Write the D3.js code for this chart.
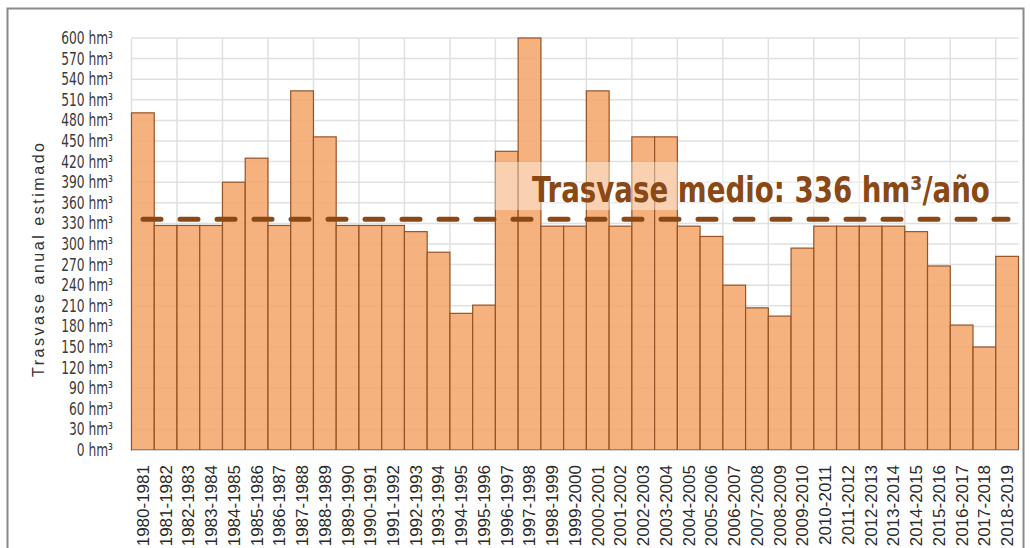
<!DOCTYPE html>
<html>
<head>
<meta charset="utf-8">
<script src="https://cdn.jsdelivr.net/npm/d3@7"></script>
<style>
	body {margin: 0; background: #fff;}
	svg {display: block;}
</style>
</head>
<body>
<svg width="1030" height="548"></svg>
<script>
let campaigns = ["1980-1981", "1981-1982", "1982-1983", "1983-1984", "1984-1985", "1985-1986",
	"1986-1987", "1987-1988", "1988-1989", "1989-1990", "1990-1991", "1991-1992", "1992-1993",
	"1993-1994", "1994-1995", "1995-1996", "1996-1997", "1997-1998", "1998-1999", "1999-2000",
	"2000-2001", "2001-2002", "2002-2003", "2003-2004", "2004-2005", "2005-2006", "2006-2007",
	"2007-2008", "2008-2009", "2009-2010", "2010-2011", "2011-2012", "2012-2013", "2013-2014",
	"2014-2015", "2015-2016", "2016-2017", "2017-2018", "2018-2019"];
let transfer = [491, 327, 327, 327, 390, 425, 327, 523, 456, 327, 327, 327, 318, 288,
	199, 211, 435, 600, 326, 326, 523, 326, 456, 456, 326, 311, 240, 207, 195, 294,
	326, 326, 326, 326, 318, 268, 182, 150, 282];
let yTicks = [0, 30, 60, 90, 120, 150, 180, 210, 240, 270, 300, 330, 360, 390, 420, 450, 480, 510, 540, 570, 600];
let meanValue = 336;
let meanLabel = "Trasvase medio: 336 hm³/año";
let yTitle = "Trasvase anual estimado";

let svg = d3.select("svg");
let narrow = "'Liberation Sans Narrow', 'Arial Narrow', 'DejaVu Sans Condensed', sans-serif";

//Rahmen
svg.append("rect")
	.attr("x", 7.5).attr("y", 8.5)
	.attr("width", 1016).attr("height", 600)
	.attr("fill", "none")
	.attr("stroke", "#8a8a8a")
	.attr("stroke-width", 2);

let xscale = d3.scaleBand().domain(campaigns).range([131.5, 1018.5]).padding(0);
let yscale = d3.scaleLinear().domain([0, 600]).range([450, 38]);
let bw = xscale.bandwidth();

//Gitterlinien
let grid = svg.append("g").attr("stroke", "#e0e0e0").attr("stroke-width", 1.5);
grid.selectAll(".hgrid")
	.data(yTicks)
	.enter().append("line")
		.attr("x1", 131.5).attr("x2", 1018.5)
		.attr("y1", function(d) {return yscale(d);})
		.attr("y2", function(d) {return yscale(d);});
grid.selectAll(".vgrid")
	.data(campaigns.filter(function(d, i) {return i % 2 == 0;}))
	.enter().append("line")
		.attr("x1", function(d) {return xscale(d);})
		.attr("x2", function(d) {return xscale(d);})
		.attr("y1", yscale(600)).attr("y2", yscale(0));

//Balken
svg.selectAll(".bar")
	.data(campaigns)
	.enter().append("rect")
		.attr("class", "bar")
		.attr("x", function(d) {return xscale(d);})
		.attr("y", function(d, i) {return yscale(transfer[i]);})
		.attr("width", bw)
		.attr("height", function(d, i) {return yscale(0) - yscale(transfer[i]);})
		.attr("fill", "#f5a76c")
		.attr("fill-opacity", 0.88)
		.attr("stroke", "#955427")
		.attr("stroke-width", 1.2);

//y-Achse (schmal gestaucht)
let yaxis = d3.axisLeft(yscale)
	.tickValues(yTicks)
	.tickSize(0)
	.tickPadding(0)
	.tickFormat(function(d) {return d + " hm³";});
let gy = svg.append("g")
	.attr("transform", "translate(113,0)scale(0.8,1)")
	.call(yaxis);
gy.select(".domain").remove();
gy.selectAll("text")
	.attr("font-family", narrow)
	.attr("font-size", 17)
	.attr("fill", "#3a3a3a");

//x-Achse
let xaxis = d3.axisBottom(xscale).tickSize(0).tickPadding(0);
let gx = svg.append("g")
	.attr("transform", "translate(0,450)")
	.call(xaxis);
gx.select(".domain").attr("stroke", "#d0d0d0");
gx.selectAll("text")
	.attr("transform", "rotate(-90)")
	.attr("text-anchor", "end")
	.attr("dy", "0.35em")
	.attr("x", -15)
	.attr("y", 0)
	.attr("font-family", "'Liberation Sans', Arial, sans-serif")
	.attr("font-size", 17)
	.attr("fill", "#2a2a2a");

//Achsenbeschriftung y-Achse
svg.append("text")
	.attr("text-anchor", "middle")
	.attr("transform", "translate(44,260)rotate(-90)")
	.attr("font-family", "'Liberation Sans', Arial, sans-serif")
	.attr("font-size", 16)
	.attr("fill", "#333")
	.attr("textLength", 234)
	.attr("lengthAdjust", "spacing")
	.text(yTitle);

//Mittelwert
svg.append("rect")
	.attr("x", 495).attr("y", 162)
	.attr("width", 500).attr("height", 48)
	.attr("fill", "#fff")
	.attr("fill-opacity", 0.4);
let meanText = svg.append("text")
	.attr("font-family", narrow)
	.attr("font-weight", "bold")
	.attr("font-size", 35)
	.attr("fill", "#8a4814")
	.text(meanLabel);
let natural = meanText.node().getComputedTextLength();
meanText.attr("transform", "translate(532,202)scale(" + (458 / natural) + ",1)");
svg.append("line")
	.attr("x1", 143).attr("x2", 1008)
	.attr("y1", yscale(meanValue)).attr("y2", yscale(meanValue))
	.attr("stroke", "#8a4814")
	.attr("stroke-width", 5)
	.attr("stroke-linecap", "round")
	.attr("stroke-dasharray", "18 19");
</script>
</body>
</html>
